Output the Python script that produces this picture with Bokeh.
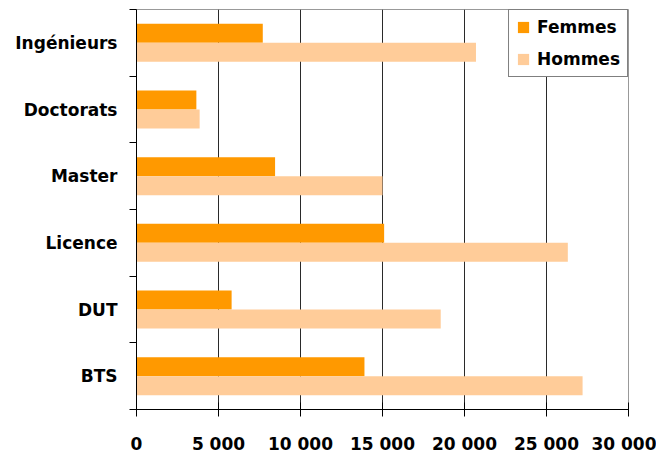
from bokeh.plotting import figure
from bokeh.models import ColumnDataSource, FixedTicker, Legend, LegendItem, Range1d
from bokeh.embed import file_html
from bokeh.resources import INLINE

categories = ["BTS", "DUT", "Licence", "Master", "Doctorats", "Ingénieurs"]
femmes = [13900, 5800, 15100, 8450, 3650, 7700]
hommes = [27200, 18550, 26300, 15000, 3850, 20700]
x_ticks = [0, 5000, 10000, 15000, 20000, 25000, 30000]
x_labels = ["0", "5 000", "10 000", "15 000", "20 000", "25 000", "30 000"]

FONT = "DejaVu Sans"
bar_h = 0.285

ypos = list(range(len(categories)))
src = ColumnDataSource(dict(
    y_f=[y + bar_h / 2 for y in ypos],
    y_h=[y - bar_h / 2 for y in ypos],
    femmes=femmes,
    hommes=hommes,
))

p = figure(width=656, height=456, output_backend="svg", toolbar_location=None,
           x_range=Range1d(0, 30000), y_range=Range1d(-0.5, len(categories) - 0.5),
           min_border_left=136, min_border_right=28, min_border_top=9, min_border_bottom=46)

p.background_fill_color = "white"
p.border_fill_color = "white"
p.outline_line_color = "#999999"
p.outline_line_width = 1

rf = p.hbar(y="y_f", right="femmes", left=0, height=bar_h, source=src,
            fill_color="#FF9900", line_color=None)
rh = p.hbar(y="y_h", right="hommes", left=0, height=bar_h, source=src,
            fill_color="#FFCC99", line_color=None)

# grid
p.ygrid.grid_line_color = None
p.xgrid.grid_line_color = "#2a2a2a"
p.xgrid.grid_line_width = 1
p.xgrid.level = "underlay"

# x axis
p.xaxis.ticker = FixedTicker(ticks=x_ticks)
p.xaxis.major_label_overrides = {t: l for t, l in zip(x_ticks, x_labels)}
p.xaxis.axis_line_color = "black"
p.xaxis.major_tick_line_color = "black"
p.xaxis.major_tick_in = 7
p.xaxis.major_tick_out = 7
p.xaxis.minor_tick_line_color = None
p.xaxis.major_label_text_font = FONT
p.xaxis.major_label_text_font_style = "bold"
p.xaxis.major_label_text_font_size = "17px"
p.xaxis.major_label_text_color = "black"
p.xaxis.major_label_standoff = 17

# y axis: labels at centres, ticks at boundaries
bounds = [y - 0.5 for y in ypos] + [len(categories) - 0.5]
p.yaxis.ticker = FixedTicker(ticks=ypos, minor_ticks=bounds)
p.yaxis.major_label_overrides = {y: c for y, c in zip(ypos, categories)}
p.yaxis.axis_line_color = "black"
p.yaxis.major_tick_line_color = None
p.yaxis.major_tick_in = 0
p.yaxis.major_tick_out = 0
p.yaxis.minor_tick_line_color = "black"
p.yaxis.minor_tick_in = 0
p.yaxis.minor_tick_out = 7
p.yaxis.major_label_text_font = FONT
p.yaxis.major_label_text_font_style = "bold"
p.yaxis.major_label_text_font_size = "17px"
p.yaxis.major_label_text_color = "black"
p.yaxis.major_label_standoff = 12

legend = Legend(items=[LegendItem(label="Femmes", renderers=[rf]),
                       LegendItem(label="Hommes", renderers=[rh])],
                location="top_right", margin=0, padding=7, spacing=12,
                glyph_width=14, glyph_height=14, label_standoff=7, label_height=20,
                border_line_color="black", border_line_width=1,
                background_fill_color="white", background_fill_alpha=1,
                label_text_font=FONT, label_text_font_style="bold",
                label_text_font_size="17px", label_text_color="black")
p.add_layout(legend)

open("out.html", "w").write(file_html(p, INLINE))
